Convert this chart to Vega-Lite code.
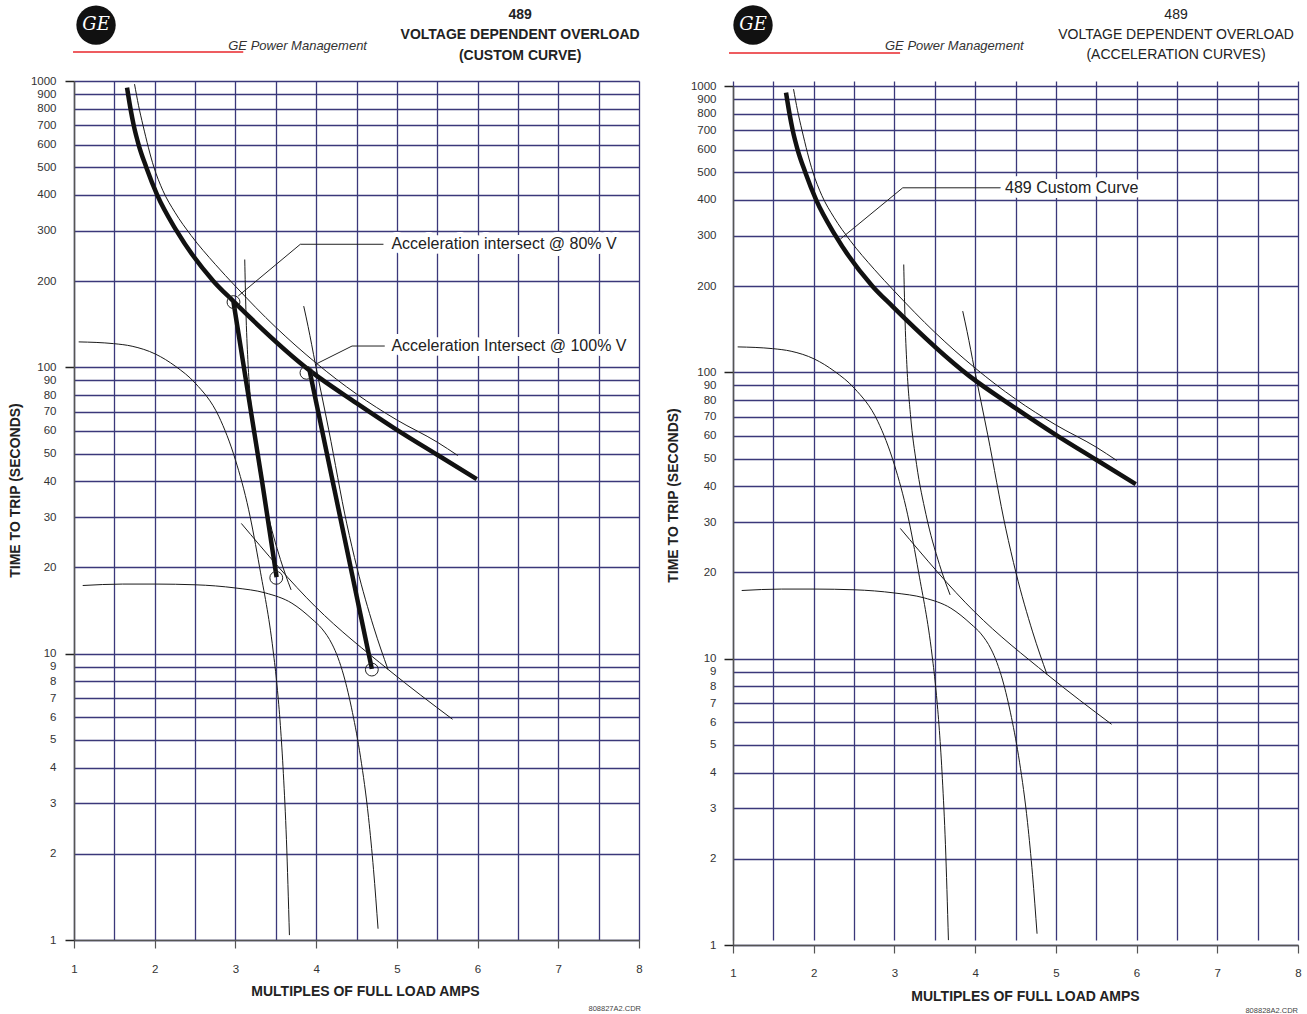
{
"$schema": "https://vega.github.io/schema/vega-lite/v6.json",
"background": "white",
"padding": {"left": 8, "top": 5, "right": 0, "bottom": 0},
"config": {"view": {"stroke": null}, "font": "Liberation Sans", "concat": {"spacing": 23}},
"datasets": {
"custom": [{"x":1.657,"y":948},{"x":1.70,"y":800},{"x":1.74,"y":700},{"x":1.80,"y":600},{"x":1.895,"y":500},{"x":2.03,"y":400},{"x":2.27,"y":300},{"x":2.728,"y":200},{"x":2.976,"y":170},{"x":3.93,"y":97},{"x":4.5,"y":75},{"x":5.0,"y":60.5},{"x":5.5,"y":49.5},{"x":5.99,"y":40.7}],
"thin": [
{"curve":"custom_ref","x":1.75,"y":975},{"curve":"custom_ref","x":1.80,"y":820},{"curve":"custom_ref","x":1.855,"y":700},{"curve":"custom_ref","x":1.99,"y":500},{"curve":"custom_ref","x":2.1,"y":415},{"curve":"custom_ref","x":2.25,"y":348},{"curve":"custom_ref","x":2.45,"y":289},{"curve":"custom_ref","x":2.75,"y":229},{"curve":"custom_ref","x":3.0,"y":192},{"curve":"custom_ref","x":3.5,"y":138},{"curve":"custom_ref","x":4.0,"y":103.5},{"curve":"custom_ref","x":4.5,"y":80.7},{"curve":"custom_ref","x":5.0,"y":65.5},{"curve":"custom_ref","x":5.5,"y":54.8},{"curve":"custom_ref","x":5.755,"y":49.2},
{"curve":"acc80","x":3.1154,"y":238},{"curve":"acc80","x":3.1295,"y":159.2},{"curve":"acc80","x":3.1538,"y":106.5},{"curve":"acc80","x":3.1985,"y":71.2},{"curve":"acc80","x":3.2742,"y":47.7},{"curve":"acc80","x":3.3908,"y":31.9},{"curve":"acc80","x":3.5583,"y":21.3},{"curve":"acc80","x":3.6898,"y":16.7},
{"curve":"acc100","x":3.846,"y":163.6},{"curve":"acc100","x":3.90,"y":139},{"curve":"acc100","x":3.99,"y":103},{"curve":"acc100","x":4.156,"y":60.5},{"curve":"acc100","x":4.38,"y":28.4},{"curve":"acc100","x":4.507,"y":19.9},{"curve":"acc100","x":4.712,"y":12.4},{"curve":"acc100","x":4.891,"y":8.8},
{"curve":"motorA","x":1.058,"y":122.7},{"curve":"motorA","x":1.49,"y":121},{"curve":"motorA","x":1.72,"y":118.5},{"curve":"motorA","x":2.008,"y":111.3},{"curve":"motorA","x":2.256,"y":100.9},{"curve":"motorA","x":2.503,"y":88},{"curve":"motorA","x":2.793,"y":67.5},{"curve":"motorA","x":2.999,"y":47.6},{"curve":"motorA","x":3.164,"y":31.8},{"curve":"motorA","x":3.30,"y":20},{"curve":"motorA","x":3.466,"y":10.3},{"curve":"motorA","x":3.516,"y":7.71},{"curve":"motorA","x":3.557,"y":5.61},{"curve":"motorA","x":3.594,"y":3.81},{"curve":"motorA","x":3.632,"y":2.24},{"curve":"motorA","x":3.669,"y":1.04},
{"curve":"motorB","x":1.108,"y":17.3},{"curve":"motorB","x":1.6,"y":17.5},{"curve":"motorB","x":2.008,"y":17.5},{"curve":"motorB","x":2.503,"y":17.4},{"curve":"motorB","x":3.0,"y":16.96},{"curve":"motorB","x":3.37,"y":16.3},{"curve":"motorB","x":3.70,"y":15.0},{"curve":"motorB","x":3.95,"y":13.2},{"curve":"motorB","x":4.074,"y":12.2},{"curve":"motorB","x":4.197,"y":10.8},{"curve":"motorB","x":4.27,"y":9.69},{"curve":"motorB","x":4.34,"y":8.42},{"curve":"motorB","x":4.45,"y":6.23},{"curve":"motorB","x":4.55,"y":4.35},{"curve":"motorB","x":4.649,"y":2.68},{"curve":"motorB","x":4.711,"y":1.76},{"curve":"motorB","x":4.767,"y":1.095},
{"curve":"diag","x":3.073,"y":28.5},{"curve":"diag","x":3.99,"y":14.6},{"curve":"diag","x":4.9,"y":8.77},{"curve":"diag","x":5.69,"y":5.9}
],
"accel": [{"curve":"a80","x":2.976,"y":169},{"curve":"a80","x":3.33,"y":40},{"curve":"a80","x":3.51,"y":18.5},{"curve":"a100","x":3.92,"y":97},{"curve":"a100","x":4.69,"y":8.85}],
"circles": [{"x":2.976,"y":169},{"x":3.88,"y":95.7},{"x":3.506,"y":18.4},{"x":4.69,"y":8.8}],
"leaders": [
{"panel":"left","id":"a","x":3.035,"y":177.5},{"panel":"left","id":"a","x":3.804,"y":269},{"panel":"left","id":"a","x":4.834,"y":269},
{"panel":"left","id":"b","x":3.99,"y":102.4},{"panel":"left","id":"b","x":4.445,"y":118.7},{"panel":"left","id":"b","x":4.85,"y":118.7},
{"panel":"right","id":"c","x":2.33,"y":292},{"panel":"right","id":"c","x":3.103,"y":441},{"panel":"right","id":"c","x":4.342,"y":441}
],
"labels": [
{"panel":"left","text":"Acceleration intersect @ 80% V","x":4.933,"y":269},
{"panel":"left","text":"Acceleration Intersect @ 100% V","x":4.933,"y":118.7},
{"panel":"right","text":"489 Custom Curve","x":4.37,"y":441}
],
"header": [
{"panel":"left","kind":"logo","text":"GE","x":1.273,"y":1568},
{"panel":"left","kind":"brand","text":"GE Power Management","x":2.911,"y":1325},
{"panel":"left","kind":"rule","x":0.988,"x2":3.097,"y":1263},
{"panel":"left","kind":"code","text":"808827A2.CDR","x":8.025,"y":0.574},
{"panel":"left","kind":"title","text":"489","x":6.527,"y":1700},
{"panel":"left","kind":"title","text":"VOLTAGE DEPENDENT OVERLOAD","x":6.527,"y":1442},
{"panel":"left","kind":"title","text":"(CUSTOM CURVE)","x":6.527,"y":1223},
{"panel":"right","kind":"logo","text":"GE","x":1.248,"y":1633},
{"panel":"right","kind":"brand","text":"GE Power Management","x":2.883,"y":1379},
{"panel":"right","kind":"rule","x":0.95,"x2":3.07,"y":1304},
{"panel":"right","kind":"code","text":"808828A2.CDR","x":8.0,"y":0.588},
{"panel":"right","kind":"title","text":"489","x":6.489,"y":1770},
{"panel":"right","kind":"title","text":"VOLTAGE DEPENDENT OVERLOAD","x":6.489,"y":1501},
{"panel":"right","kind":"title","text":"(ACCELERATION CURVES)","x":6.489,"y":1283}
]
},
"hconcat": [
{
"width": 565, "height": 859,
"encoding": {
"x": {"field":"x","type":"quantitative","scale":{"domain":[1,8],"nice":false,"zero":false},
 "axis":{"values":[1,1.5,2,2.5,3,3.5,4,4.5,5,5.5,6,6.5,7,7.5,8],"grid":true,"gridColor":"#3b387a","gridWidth":1.3,"labelExpr":"datum.value % 1 === 0 ? format(datum.value, 'd') : ''","tickSize":8,"tickColor":"#555","tickWidth":1.2,"tickOpacity":{"condition":{"test":"datum.value % 1 === 0","value":1},"value":0},"domainColor":"#555","domainWidth":1.5,"labelFontSize":11.5,"labelColor":"#333","labelPadding":21,"labelBaseline":"middle","labelFlush":false,"labelOverlap":false,"title":"MULTIPLES OF FULL LOAD AMPS","titleFontSize":14,"titleFontWeight":"bold","titleColor":"#222","titleX":291,"titleY":51,"titleBaseline":"middle","titleAlign":"center"}},
"y": {"field":"y","type":"quantitative","scale":{"type":"log","domain":[1,1000],"nice":false},
 "axis":{"values":[1,2,3,4,5,6,7,8,9,10,20,30,40,50,60,70,80,90,100,200,300,400,500,600,700,800,900,1000],"grid":true,"gridColor":"#3b387a","gridWidth":1.3,"format":"d","labelOverlap":false,"labelFlush":false,"labelBound":false,"tickSize":9,"tickWidth":1.5,"tickColor":"#222","tickOpacity":{"condition":{"test":"indexof([1,10,100,1000], datum.value) >= 0","value":1},"value":0},"domainColor":"#555","domainWidth":1.5,"labelFontSize":11.5,"labelColor":"#333","labelPadding":9,"title":"TIME TO TRIP (SECONDS)","titleFontSize":14,"titleFontWeight":"bold","titleColor":"#222","titleX":-59,"titleY":409,"titleAngle":270,"titleBaseline":"middle","titleAlign":"center"}}
},
"layer": [
{"data":{"name":"thin"},"mark":{"type":"line","color":"#1a1a1a","strokeWidth":1,"interpolate":"monotone"},"encoding":{"detail":{"field":"curve"}}},
{"data":{"name":"custom"},"mark":{"type":"line","color":"#111","strokeWidth":4.5,"interpolate":"monotone"}},
{"data":{"name":"accel"},"mark":{"type":"line","color":"#111","strokeWidth":4.5},"encoding":{"detail":{"field":"curve"}}},
{"data":{"name":"circles"},"mark":{"type":"point","shape":"circle","filled":false,"color":"#222","strokeWidth":1,"size":165,"opacity":1}},
{"data":{"name":"leaders"},"transform":[{"filter":"datum.panel == 'left'"}],"mark":{"type":"line","color":"#222","strokeWidth":1},"encoding":{"detail":{"field":"id"}}},
{"data":{"name":"labels"},"transform":[{"filter":"datum.panel == 'left'"}],"mark":{"type":"text","align":"left","baseline":"middle","fontSize":16,"color":"white","stroke":"white","strokeWidth":10,"strokeJoin":"round"},"encoding":{"text":{"field":"text"}}},
{"data":{"name":"labels"},"transform":[{"filter":"datum.panel == 'left'"}],"mark":{"type":"text","align":"left","baseline":"middle","fontSize":16,"color":"#222"},"encoding":{"text":{"field":"text"}}},
{"data":{"name":"header"},"transform":[{"filter":"datum.panel == 'left' && datum.kind == 'logo'"}],"mark":{"type":"point","shape":"circle","filled":true,"color":"#111","size":1550,"opacity":1}},
{"data":{"name":"header"},"transform":[{"filter":"datum.panel == 'left' && datum.kind == 'logo'"}],"mark":{"type":"text","align":"center","baseline":"middle","font":"DejaVu Serif","fontStyle":"italic","fontSize":18,"color":"white"},"encoding":{"text":{"field":"text"}}},
{"data":{"name":"header"},"transform":[{"filter":"datum.panel == 'left' && datum.kind == 'rule'"}],"mark":{"type":"rule","color":"#e8262b","strokeWidth":1.5},"encoding":{"x2":{"field":"x2"}}},
{"data":{"name":"header"},"transform":[{"filter":"datum.panel == 'left' && datum.kind == 'brand'"}],"mark":{"type":"text","align":"left","baseline":"middle","fontSize":13,"fontStyle":"italic","color":"#333"},"encoding":{"text":{"field":"text"}}},
{"data":{"name":"header"},"transform":[{"filter":"datum.panel == 'left' && datum.kind == 'code'"}],"mark":{"type":"text","align":"right","baseline":"middle","fontSize":7.5,"color":"#444"},"encoding":{"text":{"field":"text"}}},
{"data":{"name":"header"},"transform":[{"filter":"datum.panel == 'left' && datum.kind == 'title'"}],"mark":{"type":"text","align":"center","baseline":"middle","fontSize":14,"fontWeight":"bold","color":"#222"},"encoding":{"text":{"field":"text"}}}
]
},
{
"width": 565, "height": 864,
"encoding": {
"x": {"field":"x","type":"quantitative","scale":{"domain":[1,8],"nice":false,"zero":false},
 "axis":{"values":[1,1.5,2,2.5,3,3.5,4,4.5,5,5.5,6,6.5,7,7.5,8],"grid":true,"gridColor":"#3b387a","gridWidth":1.3,"labelExpr":"datum.value % 1 === 0 ? format(datum.value, 'd') : ''","tickSize":8,"tickColor":"#555","tickWidth":1.2,"tickOpacity":{"condition":{"test":"datum.value % 1 === 0","value":1},"value":0},"domainColor":"#555","domainWidth":1.5,"labelFontSize":11.5,"labelColor":"#333","labelPadding":20,"labelBaseline":"middle","labelFlush":false,"labelOverlap":false,"title":"MULTIPLES OF FULL LOAD AMPS","titleFontSize":14,"titleFontWeight":"bold","titleColor":"#222","titleX":292,"titleY":51,"titleBaseline":"middle","titleAlign":"center"}},
"y": {"field":"y","type":"quantitative","scale":{"type":"log","domain":[1,1000],"nice":false,"range":[864,5]},
 "axis":{"values":[1,2,3,4,5,6,7,8,9,10,20,30,40,50,60,70,80,90,100,200,300,400,500,600,700,800,900,1000],"grid":true,"gridColor":"#3b387a","gridWidth":1.3,"format":"d","labelOverlap":false,"labelFlush":false,"labelBound":false,"tickSize":9,"tickWidth":1.5,"tickColor":"#222","tickOpacity":{"condition":{"test":"indexof([1,10,100,1000], datum.value) >= 0","value":1},"value":0},"domainColor":"#555","domainWidth":1.5,"labelFontSize":11.5,"labelColor":"#333","labelPadding":8,"title":"TIME TO TRIP (SECONDS)","titleFontSize":14,"titleFontWeight":"bold","titleColor":"#222","titleX":-60,"titleY":414,"titleAngle":270,"titleBaseline":"middle","titleAlign":"center"}}
},
"layer": [
{"data":{"name":"thin"},"mark":{"type":"line","color":"#1a1a1a","strokeWidth":1,"interpolate":"monotone"},"encoding":{"detail":{"field":"curve"}}},
{"data":{"name":"custom"},"mark":{"type":"line","color":"#111","strokeWidth":4.5,"interpolate":"monotone"}},
{"data":{"name":"leaders"},"transform":[{"filter":"datum.panel == 'right'"}],"mark":{"type":"line","color":"#222","strokeWidth":1},"encoding":{"detail":{"field":"id"}}},
{"data":{"name":"labels"},"transform":[{"filter":"datum.panel == 'right'"}],"mark":{"type":"text","align":"left","baseline":"middle","fontSize":16,"color":"white","stroke":"white","strokeWidth":10,"strokeJoin":"round"},"encoding":{"text":{"field":"text"}}},
{"data":{"name":"labels"},"transform":[{"filter":"datum.panel == 'right'"}],"mark":{"type":"text","align":"left","baseline":"middle","fontSize":16,"color":"#222"},"encoding":{"text":{"field":"text"}}},
{"data":{"name":"header"},"transform":[{"filter":"datum.panel == 'right' && datum.kind == 'logo'"}],"mark":{"type":"point","shape":"circle","filled":true,"color":"#111","size":1550,"opacity":1}},
{"data":{"name":"header"},"transform":[{"filter":"datum.panel == 'right' && datum.kind == 'logo'"}],"mark":{"type":"text","align":"center","baseline":"middle","font":"DejaVu Serif","fontStyle":"italic","fontSize":18,"color":"white"},"encoding":{"text":{"field":"text"}}},
{"data":{"name":"header"},"transform":[{"filter":"datum.panel == 'right' && datum.kind == 'rule'"}],"mark":{"type":"rule","color":"#e8262b","strokeWidth":1.5},"encoding":{"x2":{"field":"x2"}}},
{"data":{"name":"header"},"transform":[{"filter":"datum.panel == 'right' && datum.kind == 'brand'"}],"mark":{"type":"text","align":"left","baseline":"middle","fontSize":13,"fontStyle":"italic","color":"#333"},"encoding":{"text":{"field":"text"}}},
{"data":{"name":"header"},"transform":[{"filter":"datum.panel == 'right' && datum.kind == 'code'"}],"mark":{"type":"text","align":"right","baseline":"middle","fontSize":7.5,"color":"#444"},"encoding":{"text":{"field":"text"}}},
{"data":{"name":"header"},"transform":[{"filter":"datum.panel == 'right' && datum.kind == 'title'"}],"mark":{"type":"text","align":"center","baseline":"middle","fontSize":14,"fontWeight":"normal","color":"#222"},"encoding":{"text":{"field":"text"}}}
]
}
]
}
